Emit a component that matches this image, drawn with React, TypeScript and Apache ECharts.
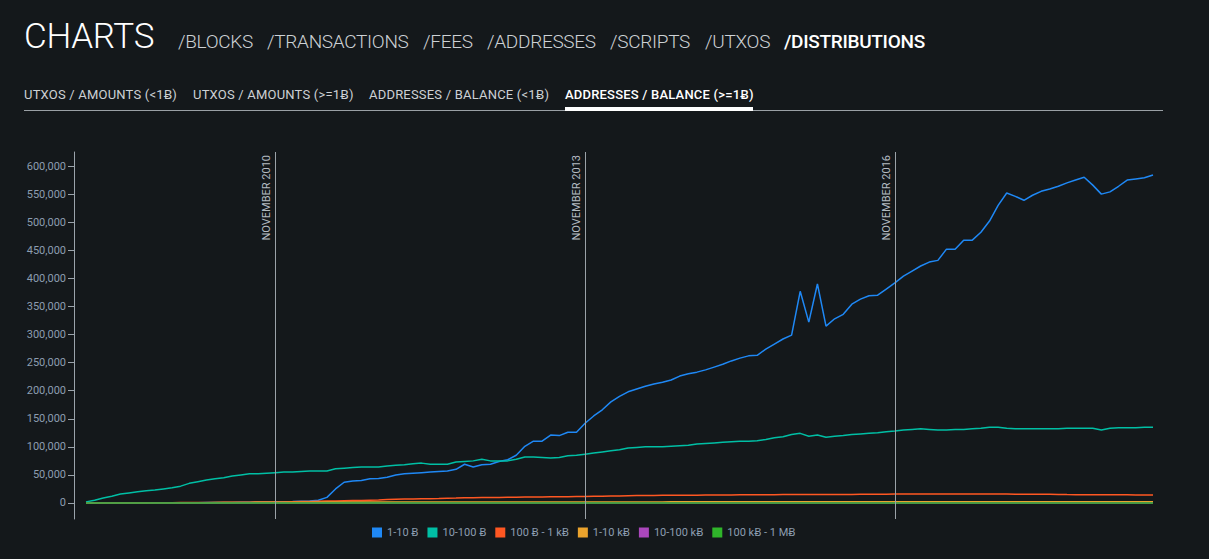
import React, { useEffect, useRef } from "react";
import * as echarts from "echarts";

// ---------- data ----------
const startYear = 2009;
const endLabel = "2019-05";
const months: string[] = [];
for (let y = startYear; y <= 2019; y++) {
  for (let m = 1; m <= 12; m++) {
    const s = `${y}-${m < 10 ? "0" + m : m}`;
    months.push(s);
    if (s === endLabel) break;
  }
}

const seriesNames = ["1-10 Ƀ", "10-100 Ƀ", "100 Ƀ - 1 kɃ", "1-10 kɃ", "10-100 kɃ", "100 kɃ - 1 MɃ"];
const seriesColors = ["#1f88f5", "#00bfa5", "#ff5722", "#eba32d", "#ab47bc", "#2fb52a"];

const v1to10 = [
  0, 0, 0, 50, 100, 150, 200, 250, 300, 350,
  400, 450, 500, 600, 700, 800, 900, 1000, 1200, 1400,
  1600, 1800, 2000, 2200, 2500, 3000, 3500, 5000, 10000, 25000,
  37000, 39000, 40000, 43000, 43500, 46000, 50000, 52000, 53000, 54000,
  55000, 56000, 57000, 60000, 69000, 64000, 68000, 69000, 74000, 77000,
  85000, 101000, 110000, 110000, 121000, 120000, 126000, 126000, 142000, 155000,
  166000, 180000, 190000, 198000, 203000, 208000, 212000, 215000, 219000, 226000,
  230000, 233000, 237000, 242000, 247000, 253000, 258000, 262000, 263000, 274000,
  283000, 292000, 299000, 377000, 322000, 390000, 315000, 328000, 336000, 354000,
  363000, 369000, 370000, 381000, 392000, 404000, 413000, 422000, 429000, 432000,
  452000, 452000, 468000, 468000, 482000, 502000, 530000, 552000, 546000, 539000,
  548000, 555000, 559000, 564000, 570000, 575000, 580000, 566000, 550000, 554000,
  564000, 575000, 577000, 579000, 584000,
];

const v10to100 = [
  2000, 5000, 9000, 12000, 16000, 18000, 20000, 22000, 23000, 25000,
  27000, 30000, 35000, 38000, 41000, 43000, 45000, 48000, 50000, 52000,
  52000, 53000, 54000, 55000, 55000, 56000, 57000, 57000, 57000, 61000,
  62000, 63000, 64000, 64000, 64000, 66000, 67000, 68000, 70000, 71000,
  69000, 69000, 69000, 73000, 74000, 75000, 78000, 75000, 75000, 75000,
  78000, 82000, 82000, 81000, 80000, 81000, 84000, 85000, 87000, 89000,
  91000, 93000, 95000, 98000, 99000, 100000, 100000, 100000, 101000, 102000,
  103000, 105000, 106000, 107000, 108000, 109000, 110000, 110000, 111000, 113000,
  116000, 118000, 122000, 124000, 119000, 121000, 117000, 119000, 120000, 122000,
  123000, 124000, 125000, 127000, 128000, 130000, 131000, 132000, 131000, 130000,
  130000, 131000, 131000, 132000, 133000, 135000, 135000, 133000, 132000, 132000,
  132000, 132000, 132000, 132000, 133000, 133000, 133000, 133000, 130000, 133000,
  134000, 134000, 134000, 135000, 135000,
];

const v100to1k = [
  100, 150, 200, 250, 300, 350, 400, 450, 500, 550,
  600, 700, 800, 900, 1000, 1100, 1200, 1300, 1400, 1500,
  1600, 1700, 1800, 1900, 2200, 2500, 2800, 3100, 3400, 3700,
  4000, 4300, 4600, 5000, 5400, 6300, 6800, 7100, 7300, 7500,
  7700, 7900, 8300, 8700, 9200, 9400, 9600, 9800, 10000, 10200,
  10400, 10600, 10700, 10800, 10900, 11000, 11200, 11400, 11600, 11800,
  12000, 12300, 12600, 12900, 13200, 13400, 13500, 13600, 13700, 13800,
  13900, 14000, 14100, 14200, 14300, 14400, 14500, 14600, 14700, 14800,
  14900, 15000, 15100, 15200, 15000, 15200, 15000, 15100, 15200, 15300,
  15400, 15500, 15600, 15700, 15800, 15900, 16000, 16100, 16100, 16100,
  16000, 16000, 16000, 16000, 16100, 16100, 16000, 15800, 15600, 15500,
  15500, 15400, 15400, 15300, 15000, 14800, 14700, 14700, 14600, 14600,
  14500, 14500, 14400, 14400, 14300,
];

const v1kto10k = [
  0, 20, 40, 60, 80, 100, 150, 200, 250, 300,
  350, 400, 450, 500, 600, 700, 800, 900, 1000, 1100,
  1200, 1300, 1350, 1400, 1450, 1500, 1520, 1540, 1560, 1580,
  1600, 1620, 1640, 1650, 1660, 1670, 1680, 1690, 1700, 1710,
  1720, 1730, 1740, 1750, 1760, 1770, 1780, 1790, 1800, 1810,
  1820, 1830, 1840, 1850, 1860, 1870, 1880, 1890, 1900, 1910,
  1920, 1930, 1940, 1950, 1960, 1970, 1980, 1990, 2000, 2010,
  2020, 2030, 2040, 2050, 2060, 2070, 2080, 2090, 2100, 2110,
  2120, 2130, 2140, 2150, 2140, 2150, 2140, 2150, 2160, 2170,
  2180, 2190, 2200, 2200, 2200, 2190, 2180, 2170, 2160, 2150,
  2140, 2130, 2120, 2110, 2100, 2100, 2100, 2090, 2080, 2070,
  2060, 2050, 2050, 2050, 2050, 2060, 2060, 2070, 2080, 2090,
  2100, 2110, 2120, 2130, 2140,
];

const v10kto100k = [
  0, 0, 0, 0, 0, 2, 4, 6, 8, 10,
  14, 18, 24, 30, 38, 46, 54, 62, 70, 78,
  84, 90, 95, 100, 104, 108, 110, 112, 114, 116,
  118, 119, 120, 121, 122, 123, 124, 125, 126, 127,
  128, 129, 130, 131, 132, 133, 134, 135, 136, 137,
  138, 139, 140, 141, 142, 143, 144, 145, 146, 147,
  148, 149, 150, 150, 151, 151, 152, 152, 153, 153,
  154, 154, 155, 155, 156, 156, 157, 157, 158, 158,
  159, 159, 160, 160, 161, 161, 160, 160, 159, 159,
  158, 158, 157, 157, 156, 156, 155, 155, 154, 154,
  153, 153, 152, 152, 151, 151, 150, 150, 149, 149,
  148, 148, 147, 147, 146, 146, 145, 145, 144, 144,
  143, 143, 142, 142, 141,
];

const v100kto1M = [
  0, 0, 0, 0, 0, 0, 0, 0, 0, 0,
  0, 0, 0, 0, 0, 0, 0, 0, 0, 0,
  0, 0, 0, 0, 0, 1, 1, 1, 1, 1,
  1, 1, 1, 1, 1, 1, 1, 1, 1, 1,
  1, 1, 1, 1, 1, 1, 1, 1, 1, 1,
  1, 1, 1, 1, 1, 1, 1, 1, 1, 1,
  1, 1, 1, 1, 1, 1, 1, 1, 1, 1,
  1, 1, 1, 1, 1, 1, 1, 1, 1, 1,
  1, 1, 1, 1, 1, 1, 1, 1, 1, 1,
  1, 1, 1, 1, 1, 1, 1, 1, 1, 1,
  1, 1, 1, 1, 1, 1, 1, 1, 1, 1,
  2, 2, 2, 2, 2, 2, 2, 2, 2, 2,
  2, 2, 2, 2, 2,
];

const seriesValues = [v1to10, v10to100, v100to1k, v1kto10k, v10kto100k, v100kto1M];

const yTicks = [0, 50000, 100000, 150000, 200000, 250000, 300000, 350000, 400000, 450000, 500000, 550000, 600000];

const markers = [
  { month: "2010-11", label: "NOVEMBER 2010" },
  { month: "2013-11", label: "NOVEMBER 2013" },
  { month: "2016-11", label: "NOVEMBER 2016" },
];

const navItems = ["/BLOCKS", "/TRANSACTIONS", "/FEES", "/ADDRESSES", "/SCRIPTS", "/UTXOS", "/DISTRIBUTIONS"];
const navLefts = [178, 267, 423, 487, 610, 705, 784];
const subTabs = ["UTXOS / AMOUNTS (<1Ƀ)", "UTXOS / AMOUNTS (>=1Ƀ)", "ADDRESSES / BALANCE (<1Ƀ)", "ADDRESSES / BALANCE (>=1Ƀ)"];
const subLefts = [24, 193, 369, 565];

const FONT = "Roboto, 'Noto Sans', sans-serif";

export default function App() {
  const ref = useRef<HTMLDivElement>(null);

  useEffect(() => {
    if (!ref.current) return;
    const chart = echarts.init(ref.current, undefined, { renderer: "svg" });
    const series: any[] = seriesNames.map((name, i) => ({
      name,
      type: "line",
      data: seriesValues[i],
      showSymbol: false,
      symbol: "none",
      color: seriesColors[i],
      lineStyle: { width: 1.5, color: seriesColors[i] },
      silent: true,
    }));
    series[0].markLine = {
      silent: true,
      symbol: "none",
      lineStyle: { color: "#9ba2a8", width: 1, type: "solid" },
      label: {
        show: true,
        position: "insideEndTop",
        formatter: (p: any) => p.name,
        color: "#b5bcc3",
        fontSize: 11,
        fontFamily: FONT,
        distance: 3,
      },
      emphasis: { disabled: true },
      data: markers.map((m) => ({ xAxis: m.month, name: m.label })),
    };

    chart.setOption({
      animation: false,
      backgroundColor: "transparent",
      textStyle: { fontFamily: FONT },
      grid: { left: 86, right: 56, top: 152, bottom: 40 },
      legend: {
        left: 367,
        top: 522,
        icon: "rect",
        itemWidth: 10,
        itemHeight: 10,
        itemGap: 9,
        textStyle: { color: "#8c9db0", fontSize: 11, fontFamily: FONT },
        data: seriesNames,
        selectedMode: false,
      },
      xAxis: {
        type: "category",
        data: months,
        boundaryGap: false,
        show: false,
      },
      yAxis: {
        type: "value",
        min: -28500,
        max: 625000,
        offset: 12,
        axisLine: { show: true, lineStyle: { color: "#9aa3ab", width: 1 } },
        axisTick: { show: true, length: 6, customValues: yTicks, lineStyle: { color: "#9aa3ab" } },
        axisLabel: {
          customValues: yTicks,
          color: "#8c9db0",
          fontSize: 11,
          fontFamily: FONT,
          margin: 8,
          formatter: (v: number) => v.toLocaleString("en-US"),
        },
        splitLine: { show: false },
      },
      series,
    });
    return () => chart.dispose();
  }, []);

  return (
    <div
      style={{
        position: "fixed",
        left: 0,
        top: 0,
        width: 1209,
        height: 559,
        background: "#14181b",
        fontFamily: FONT,
        overflow: "hidden",
      }}
    >
      <div ref={ref} style={{ position: "absolute", left: 0, top: 0, width: 1209, height: 559 }} />
      <div
        style={{
          position: "absolute",
          left: 24,
          top: 19,
          fontSize: 35,
          lineHeight: "35px",
          letterSpacing: "-0.3px",
          fontWeight: 300,
          color: "#ffffff",
          whiteSpace: "nowrap",
        }}
      >
        CHARTS
      </div>
      {navItems.map((t, i) => (
        <div
          key={t}
          style={{
            position: "absolute",
            left: navLefts[i],
            top: 32,
            fontSize: 19,
            lineHeight: "19px",
            letterSpacing: "-0.3px",
            fontWeight: i === navItems.length - 1 ? 500 : 300,
            color: i === navItems.length - 1 ? "#ffffff" : "#cdd1d5",
            whiteSpace: "nowrap",
          }}
        >
          {t}
        </div>
      ))}
      {subTabs.map((t, i) => (
        <div
          key={t}
          style={{
            position: "absolute",
            left: subLefts[i],
            top: 88,
            fontSize: 13,
            lineHeight: "13px",
            letterSpacing: "0.2px",
            fontWeight: i === subTabs.length - 1 ? 500 : 400,
            color: i === subTabs.length - 1 ? "#ffffff" : "#cdd1d5",
            whiteSpace: "nowrap",
          }}
        >
          {t}
        </div>
      ))}
      <div style={{ position: "absolute", left: 24, top: 110, width: 1139, height: 1, background: "#9aa0a5" }} />
      <div style={{ position: "absolute", left: 565, top: 107, width: 188, height: 4, background: "#ffffff" }} />
    </div>
  );
}
